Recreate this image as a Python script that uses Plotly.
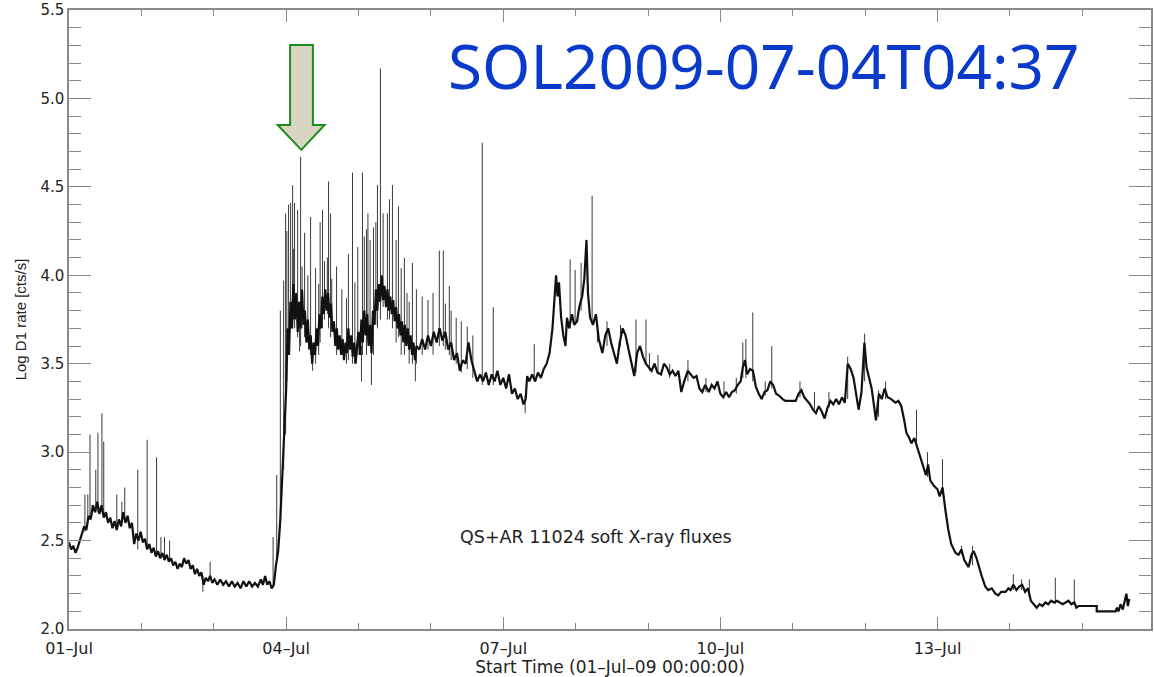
import plotly.graph_objects as go

# ---- data (days since 01-Jul-09 00:00, log10 D1 rate) ----
t_base = [0.00,0.03,0.06,0.09,0.12,0.15,0.18,0.21,0.24,0.27,0.30,0.33,0.36,0.39,0.42,0.45,0.48,0.51,0.54,0.57,
          0.60,0.63,0.66,0.69,0.72,0.75,0.78,0.81,0.84,0.87,0.90,0.93,0.96,0.99,1.02,1.05,1.08,1.11,1.14,1.17,
          1.20,1.23,1.26,1.29,1.32,1.35,1.38,1.41,1.44,1.47,1.50,1.53,1.56,1.59,1.62,1.65,1.68,1.71,1.74,1.77,
          1.80,1.83,1.86,1.89,1.92,1.95,1.98,2.01,2.05,2.09,2.13,2.17,2.21,2.25,2.29,2.33,2.37,2.41,2.45,2.49,
          2.53,2.57,2.61,2.65,2.68,2.71,2.74,2.77,2.80,2.83,2.86,2.89,2.92,2.94,2.96,2.98,
          3.00,3.02,3.04,3.06,3.08,3.10,3.12,3.14,3.16,3.18,3.20,3.22,3.24,3.26,3.28,3.30,3.32,3.34,3.36,3.38,
          3.40,3.42,3.44,3.46,3.48,3.50,3.52,3.54,3.56,3.58,3.60,3.62,3.64,3.66,3.68,3.70,3.72,3.74,3.76,3.78,
          3.80,3.82,3.84,3.86,3.88,3.90,3.92,3.94,3.96,3.98,4.00,4.02,4.04,4.06,4.08,4.10,4.12,4.14,4.16,4.18,
          4.20,4.22,4.24,4.26,4.28,4.30,4.32,4.34,4.36,4.38,4.40,4.42,4.44,4.46,4.48,4.50,4.52,4.54,4.56,4.58,
          4.60,4.62,4.64,4.66,4.68,4.70,4.72,4.74,4.76,4.78,4.80,4.84,4.88,4.92,4.96,5.00,5.04,5.08,5.12,5.16,
          5.20,5.24,5.28,5.32,5.36,5.40,5.44,5.48,5.52,5.56,5.60,5.64,5.68,5.72,5.76,5.80,5.84,5.88,5.92,5.96,
          6.00,6.04,6.08,6.12,6.16,6.20,6.24,6.28,6.31,6.33,6.36,6.40,6.44,6.48,6.52,6.56,6.60,6.64,
          6.68,6.71,6.73,6.75,6.77,6.80,6.83,6.86,6.88,6.91,6.95,6.98,7.02,7.05,7.09,7.12,7.15,7.17,7.20,7.24,
          7.28,7.32,7.37,7.41,7.45,7.49,7.53,7.57,7.61,7.65,7.69,7.73,7.77,7.81,7.85,7.89,7.93,7.97,8.01,8.05,
          8.09,8.13,8.18,8.22,8.26,8.30,8.34,8.38,8.42,8.46,8.50,8.55,8.59,8.63,8.67,8.71,8.75,8.79,8.84,8.88,
          8.92,8.96,9.00,9.04,9.08,9.12,9.16,9.20,9.24,9.28,9.31,9.34,9.37,9.41,9.45,9.49,9.53,9.57,9.61,9.65,
          9.69,9.73,9.77,9.81,9.86,9.90,9.94,10.04,10.08,10.12,10.16,10.20,10.24,10.28,10.32,10.36,10.40,10.44,
          10.48,10.52,10.56,10.60,10.64,10.68,10.72,10.76,10.80,10.84,10.88,10.91,10.95,10.99,11.02,11.06,11.09,
          11.13,11.15,11.19,11.23,11.27,11.31,11.36,11.42,11.46,11.50,11.54,11.57,11.61,11.64,11.68,11.74,11.78,
          11.81,11.84,11.87,11.90,11.95,12.00,12.03,12.07,12.11,12.15,12.19,12.25,12.29,12.33,12.37,12.43,12.47,
          12.50,12.54,12.58,12.61,12.66,12.70,12.75,12.80,12.84,12.88,12.94,12.98,13.01,13.05,13.09,13.13,13.17,
          13.21,13.25,13.29,13.33,13.37,13.41,13.45,13.49,13.53,13.57,13.61,13.65,13.69,13.73,13.77,13.81,13.85,
          13.89,13.92,13.95,14.20,14.20,14.46,14.48,14.50,14.53,14.56,14.59,14.61,14.63,14.65]
v_base = [2.49,2.45,2.47,2.43,2.46,2.50,2.54,2.58,2.56,2.64,2.62,2.70,2.66,2.72,2.65,2.70,2.63,2.66,2.60,2.63,
          2.57,2.61,2.56,2.62,2.58,2.66,2.60,2.64,2.57,2.60,2.48,2.54,2.50,2.55,2.49,2.51,2.45,2.48,2.43,2.46,
          2.41,2.44,2.40,2.43,2.39,2.42,2.38,2.40,2.36,2.38,2.34,2.37,2.35,2.40,2.37,2.39,2.34,2.36,2.31,2.34,
          2.30,2.32,2.25,2.29,2.27,2.30,2.26,2.28,2.25,2.28,2.25,2.27,2.24,2.27,2.24,2.26,2.23,2.27,2.24,2.27,
          2.24,2.26,2.24,2.28,2.25,2.30,2.25,2.27,2.23,2.25,2.36,2.44,2.62,2.80,3.02,3.20,
          3.35,3.70,3.55,3.85,3.70,3.95,3.75,3.90,3.68,3.85,3.70,3.92,3.72,3.80,3.62,3.75,3.58,3.66,3.50,3.62,
          3.55,3.70,3.60,3.78,3.70,3.88,3.78,3.92,3.80,3.90,3.76,3.84,3.68,3.74,3.60,3.70,3.58,3.66,3.55,3.64,
          3.52,3.62,3.56,3.70,3.58,3.66,3.54,3.62,3.50,3.60,3.68,3.55,3.75,3.62,3.80,3.66,3.78,3.60,3.72,3.56,
          3.80,3.72,3.92,3.80,3.95,3.85,4.00,3.86,3.94,3.82,3.92,3.80,3.88,3.78,3.86,3.74,3.82,3.70,3.78,3.66,
          3.74,3.62,3.72,3.60,3.70,3.58,3.66,3.55,3.62,3.52,3.60,3.58,3.64,3.58,3.66,3.60,3.68,3.62,3.70,3.63,
          3.68,3.58,3.62,3.52,3.56,3.46,3.52,3.50,3.62,3.52,3.46,3.40,3.44,3.40,3.45,3.38,3.44,3.40,3.46,3.38,
          3.42,3.36,3.44,3.33,3.36,3.30,3.33,3.27,3.30,3.43,3.40,3.44,3.40,3.45,3.42,3.47,3.50,3.56,
          3.70,3.92,4.00,3.88,3.96,3.76,3.66,3.60,3.76,3.70,3.78,3.72,3.74,3.82,3.88,3.98,4.20,3.90,3.76,3.72,
          3.78,3.64,3.56,3.66,3.70,3.62,3.56,3.50,3.62,3.70,3.66,3.58,3.50,3.43,3.56,3.60,3.54,3.50,3.48,3.46,
          3.50,3.45,3.44,3.50,3.48,3.44,3.46,3.43,3.46,3.34,3.40,3.46,3.44,3.42,3.43,3.36,3.34,3.38,3.34,3.38,
          3.36,3.40,3.33,3.31,3.34,3.31,3.34,3.35,3.38,3.40,3.48,3.52,3.44,3.47,3.46,3.37,3.33,3.30,3.34,3.35,
          3.40,3.38,3.33,3.32,3.30,3.29,3.29,3.29,3.33,3.35,3.31,3.29,3.27,3.24,3.22,3.26,3.23,3.19,
          3.25,3.29,3.27,3.30,3.27,3.31,3.28,3.50,3.47,3.42,3.32,3.24,3.34,3.62,3.48,3.40,3.36,
          3.24,3.18,3.33,3.30,3.36,3.31,3.30,3.28,3.29,3.26,3.18,3.11,3.08,3.05,3.08,3.00,2.94,
          2.90,2.87,2.93,2.84,2.81,2.79,2.75,2.80,2.67,2.56,2.48,2.43,2.42,2.45,2.39,2.35,2.42,
          2.44,2.40,2.34,2.30,2.24,2.22,2.23,2.20,2.19,2.21,2.21,2.23,2.22,2.25,2.22,2.24,2.25,
          2.21,2.23,2.16,2.14,2.12,2.14,2.13,2.15,2.14,2.16,2.15,2.16,2.15,2.14,2.15,2.16,2.14,
          2.15,2.12,2.13,2.13,2.10,2.10,2.12,2.10,2.14,2.11,2.16,2.20,2.13,2.17]

# short flare spikes: time, foot value, peak value
spike_t  = [0.22,0.26,0.29,0.37,0.40,0.455,0.48,0.66,0.73,0.77,0.95,1.08,1.21,1.27,1.32,1.39,1.85,1.95,2.82,2.87,
            2.92,2.966,2.993,3.034,3.062,3.090,3.117,3.159,3.186,3.200,3.255,3.338,3.366,3.407,3.503,3.586,3.614,
            3.697,3.834,3.917,4.041,4.055,4.110,4.179,4.207,4.262,4.303,4.400,4.428,4.469,4.552,4.634,4.745,4.786,
            4.800,5.117,5.172,5.255,5.503,5.710,5.862,6.303,6.428,
            3.01,3.10,3.22,3.30,3.45,3.47,3.53,3.57,3.63,3.77,3.86,3.95,3.99,4.08,4.13,4.16,4.24,4.34,
            4.52,4.59,4.67,4.70,4.88,4.96,5.03,5.20,5.28,5.35,5.42,5.58,
            6.924,6.993,7.076,7.228,7.434,7.834,7.972,8.138,8.552,9.310,9.352,9.448,9.710,
            7.30,7.62,8.02,8.30,8.80,9.05,9.22,9.62,10.10,10.30,10.50,
            10.759,10.993,11.186,11.283,11.710,11.862,12.069,12.331,12.483,13.048,13.159,13.269,13.628,13.890]
spike_lo = [2.55,2.60,2.62,2.66,2.66,2.66,2.64,2.58,2.60,2.62,2.45,2.47,2.42,2.42,2.40,2.38,2.21,2.28,2.24,2.40,
            2.60,2.90,3.10,3.60,3.70,3.70,3.70,3.65,3.57,3.60,3.65,3.55,3.46,3.50,3.70,3.70,3.65,
            3.55,3.50,3.50,3.40,3.55,3.55,3.38,3.55,3.70,3.75,3.75,3.75,3.70,3.65,3.55,3.50,3.40,
            3.50,3.60,3.60,3.55,3.47,3.38,3.38,3.22,3.40,
            3.40,3.75,3.70,3.62,3.55,3.62,3.75,3.78,3.70,3.55,3.52,3.50,3.55,3.72,3.62,3.60,3.72,3.82,
            3.62,3.55,3.62,3.50,3.55,3.58,3.55,3.58,3.52,3.50,3.45,3.42,
            3.70,3.72,3.80,3.74,3.60,3.45,3.50,3.44,3.40,3.42,3.42,3.40,3.36,
            3.62,3.60,3.46,3.42,3.34,3.31,3.33,3.32,3.31,3.24,3.25,
            3.30,3.40,3.20,3.30,3.04,2.86,2.76,2.42,2.36,2.22,2.22,2.18,2.14,2.14]
spike_hi = [2.76,2.76,3.10,2.90,3.11,3.22,3.06,2.76,2.72,2.80,2.90,3.07,2.97,2.52,2.52,2.50,2.30,2.38,2.52,2.87,
            3.80,3.97,4.35,4.40,4.41,4.51,4.41,4.37,3.80,4.67,4.24,4.33,3.60,4.04,4.37,4.53,4.35,
            4.05,3.87,4.58,3.60,4.58,4.26,3.60,4.27,4.51,5.17,4.35,4.43,4.51,4.39,4.10,4.07,3.55,
            3.92,4.14,4.14,3.94,3.71,4.75,3.82,3.32,3.61,
            4.25,4.15,4.05,4.00,3.95,4.30,4.08,4.10,3.98,3.92,4.12,3.96,4.16,4.22,4.35,4.20,4.30,4.35,
            4.20,4.04,3.90,3.85,3.88,3.86,3.90,3.84,3.80,3.76,3.74,3.66,
            4.09,4.03,4.07,4.45,3.74,3.75,3.75,3.55,3.52,3.62,3.64,3.79,3.60,
            3.72,3.72,3.56,3.50,3.42,3.40,3.42,3.40,3.40,3.34,3.34,
            3.54,3.67,3.35,3.40,3.24,3.00,2.96,2.47,2.47,2.31,2.28,2.28,2.29,2.28]

tick_days = [0, 3, 6, 9, 12]
tick_text = ["01\u2013Jul", "04\u2013Jul", "07\u2013Jul", "10\u2013Jul", "13\u2013Jul"]
y_ticks = [2.0, 2.5, 3.0, 3.5, 4.0, 4.5, 5.0, 5.5]

event_label = "SOL2009-07-04T04:37"
note_label = "QS+AR 11024 soft X-ray fluxes"
x_title = "Start Time (01\u2013Jul\u201309 00:00:00)"
y_title = "Log D1 rate [cts/s]"

# arrow outline (days, log rate)
arrow_shaft = (3.055, 3.370)
arrow_head = (2.883, 3.531)
arrow_tip = (3.210, 4.709)
arrow_top, arrow_neck = 5.302, 4.85

# ---- figure ----
sx, sy = [], []
for t, lo, hi in zip(spike_t, spike_lo, spike_hi):
    sx += [t, t, None]
    sy += [lo, hi, None]

fig = go.Figure()
fig.add_trace(go.Scatter(x=sx, y=sy, mode="lines", line=dict(color="#3a3a3a", width=1),
                         hoverinfo="skip", showlegend=False))
fig.add_trace(go.Scatter(x=t_base, y=v_base, mode="lines", line=dict(color="#111111", width=2.2),
                         showlegend=False))

path = (f"M {arrow_shaft[0]},{arrow_top} L {arrow_shaft[1]},{arrow_top} L {arrow_shaft[1]},{arrow_neck} "
        f"L {arrow_head[1]},{arrow_neck} L {arrow_tip[0]},{arrow_tip[1]} L {arrow_head[0]},{arrow_neck} "
        f"L {arrow_shaft[0]},{arrow_neck} Z")
fig.add_shape(type="path", path=path, xref="x", yref="y",
              fillcolor="#d8d6c0", line=dict(color="#1f8c1f", width=2))

fig.add_annotation(text=event_label, xref="paper", yref="paper", x=0.642, y=0.911,
                   xanchor="center", yanchor="middle",
                   showarrow=False, font=dict(family="Noto Sans", size=62, color="#0a3acb"))
fig.add_annotation(text=note_label, xref="paper", yref="paper", x=0.487, y=0.149,
                   xanchor="center", yanchor="middle",
                   showarrow=False, font=dict(family="DejaVu Sans", size=17.5, color="#222"))

axis_col = "#8a8a8a"
fig.update_xaxes(range=[0, 14.95], tickmode="array", tickvals=tick_days, ticktext=tick_text,
                 ticks="inside", ticklen=12, tickcolor=axis_col, tickwidth=1.2,
                 showline=True, linecolor=axis_col, linewidth=1.5, mirror="allticks",
                 showgrid=False, zeroline=False, ticklabelstandoff=4,
                 minor=dict(tickmode="linear", tick0=0, dtick=1, ticks="inside", ticklen=6,
                            tickcolor=axis_col, tickwidth=1.2),
                 tickfont=dict(family="DejaVu Sans", size=16, color="#222"),
                 title=dict(text=x_title, font=dict(family="DejaVu Sans", size=17, color="#222"), standoff=1))
fig.update_yaxes(range=[2.0, 5.5], tickmode="array", tickvals=y_ticks,
                 ticktext=[f"{v:.1f}" for v in y_ticks],
                 ticks="inside", ticklen=22, tickcolor=axis_col, tickwidth=1.2,
                 showline=True, linecolor=axis_col, linewidth=1.5, mirror="allticks",
                 showgrid=False, zeroline=False,
                 minor=dict(tickmode="linear", tick0=2.0, dtick=0.1, ticks="inside", ticklen=12,
                            tickcolor=axis_col, tickwidth=1.2),
                 tickfont=dict(family="DejaVu Sans", size=15, color="#222"),
                 title=dict(text=y_title, font=dict(family="Liberation Sans", size=15, color="#222"), standoff=10))

fig.update_layout(width=1154, height=677, margin=dict(l=69, r=1, t=10, b=48),
                  plot_bgcolor="white", paper_bgcolor="white")
fig.write_html("out.html")
